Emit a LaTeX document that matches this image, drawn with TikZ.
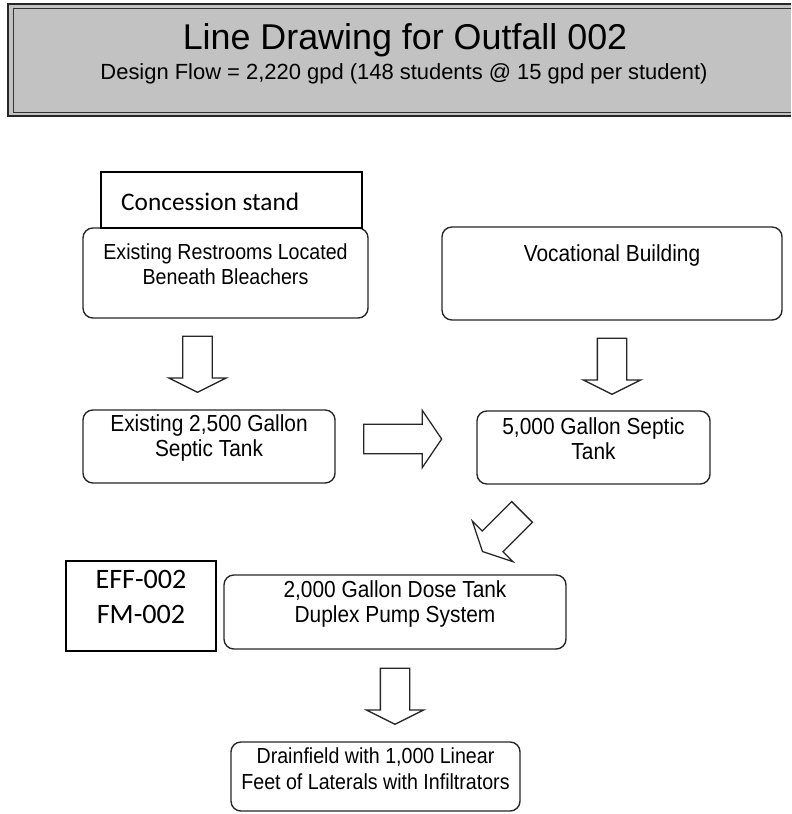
\documentclass[tikz,border=0pt]{standalone}
\usepackage{fontspec}
\setmainfont{Liberation Sans}
\newfontfamily\calibri{Carlito}
\newfontfamily\scanfont[FakeStretch=0.9]{Liberation Sans}
\usetikzlibrary{positioning,fit,calc,shapes.arrows}
\tikzset{
  box/.style ={draw=black!85, line width=1pt, rounded corners=7pt, inner sep=0pt, align=center, font=\scanfont\fontsize{16.5}{17.8}\selectfont},
  tag/.style ={draw=black, line width=1.5pt, fill=white, inner sep=0pt, align=center, font=\calibri\fontsize{18}{22}\selectfont},
  txt/.style ={align=center, font=\scanfont\fontsize{16.5}{17.8}\selectfont},
  blk/.style ={single arrow, draw=black!85, line width=0.9pt, fill=white, inner xsep=0pt, inner ysep=9.96pt, anchor=tail,
               minimum height=39.8pt, single arrow head extend=9.96pt, single arrow tip angle=126.9},
}

\begin{document}
\begin{tikzpicture}[x=0.025cm, y=-0.025cm]
  \useasboundingbox (0,0) rectangle (791,814);
  % banner
  \fill[black!24] (8,4) rectangle (791,116);
  \draw[line width=1.6pt, black!85] (791,4) -- (8,4) -- (8,116) -- (791,116);
  \draw[line width=0.7pt, black!80] (791,8) -- (13,8) -- (13,112) -- (791,112);
  \node[anchor=base, font=\fontsize{25.5}{30}\selectfont] (ttl) at (405,50) {Line Drawing for Outfall 002};
  \node[anchor=base, font=\fontsize{15.6}{18}\selectfont] (sub) at (404,80) {Design Flow = 2,220 gpd (148 students @ 15 gpd per student)};

  % sources
  \node[box, fit={(83,228) (368,318)}] (rest) {};
  \node[txt, font=\scanfont\fontsize{15.5}{17.8}\selectfont] at ($(rest.center)+(0,-8.5)$) {Existing Restrooms Located\\Beneath Bleachers};
  \node[tag, fit={(101,172) (362,228)}] (conc) {};
  \node[font=\calibri\fontsize{18}{22}\selectfont, anchor=west, inner sep=0pt] at ($(conc.west)+(21,2)$) {Concession stand};
  \node[box, fit={(442,227) (782,320)}] (voc) {};
  \node[txt] at ($(voc.center)+(0,-18.5)$) {Vocational Building};

  % tanks
  \node[box, fit={(83,410) (335,483)}] (tk25) {Existing 2,500 Gallon\\Septic Tank};
  \node[box, fit={(477,411) (710,484)}] (tk50) {5,000 Gallon Septic\\Tank};
  \node[box, fit={(224,575) (566,649)}] (dose) {2,000 Gallon Dose Tank\\Duplex Pump System};
  \node[tag, fit={(66,561) (216,651)}, font=\calibri\fontsize{20}{25}\selectfont] (eff) {EFF-002\\FM-002};
  \node[box, fit={(231,742) (520,811)}, font=\scanfont\fontsize{15.5}{19}\selectfont] (drain) {Drainfield with 1,000 Linear\\Feet of Laterals with Infiltrators};

  % block arrows
  \node[blk, rotate=-90] (a1) at ($(rest.south)+(-28,17)$) {};
  \node[blk, rotate=-90] (a2) at ($(voc.south)+(0,17)$) {};
  \node[blk, minimum height=55.5pt, single arrow tip angle=111.7] (a3) at (363,439) {};
  \node[blk, rotate=-135] (a4) at (522.5,511.5) {};
  \node[blk, rotate=-90] (a5) at ($(dose.south)+(0,18)$) {};
\end{tikzpicture}
\end{document}
